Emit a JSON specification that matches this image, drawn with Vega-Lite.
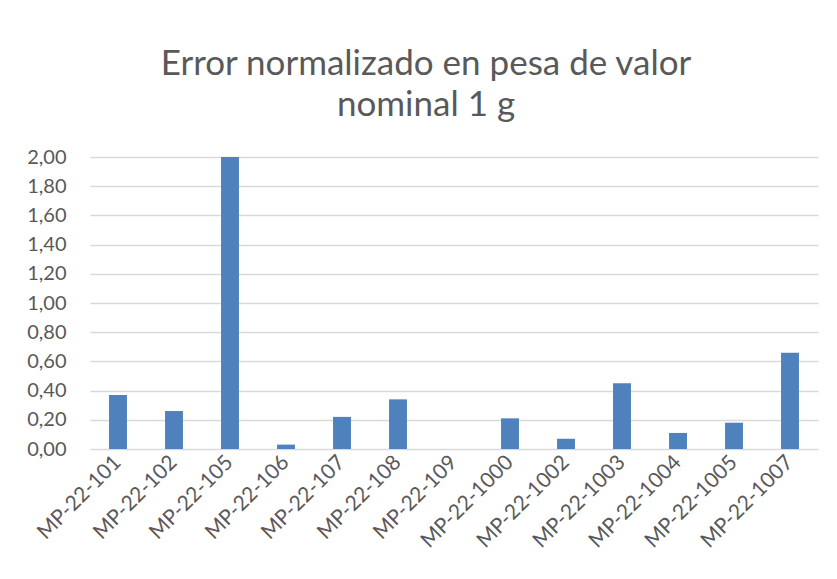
{
  "$schema": "https://vega.github.io/schema/vega-lite/v6.json",
  "width": 728,
  "height": 292,
  "autosize": {"type": "none"},
  "padding": {"left": 90, "top": 157, "right": 19, "bottom": 130},
  "background": "white",
  "title": {
    "text": ["Error normalizado en pesa de valor", "nominal 1 g"],
    "font": "Lato",
    "fontSize": 35,
    "fontWeight": "normal",
    "color": "#595959",
    "anchor": "middle",
    "frame": "group",
    "dx": -28,
    "offset": 24,
    "lineHeight": 41
  },
  "data": {
    "values": [
      {"pesa": "MP-22-101", "en": 0.37},
      {"pesa": "MP-22-102", "en": 0.26},
      {"pesa": "MP-22-105", "en": 2.0},
      {"pesa": "MP-22-106", "en": 0.03},
      {"pesa": "MP-22-107", "en": 0.22},
      {"pesa": "MP-22-108", "en": 0.34},
      {"pesa": "MP-22-109", "en": 0.0},
      {"pesa": "MP-22-1000", "en": 0.21},
      {"pesa": "MP-22-1002", "en": 0.07},
      {"pesa": "MP-22-1003", "en": 0.45},
      {"pesa": "MP-22-1004", "en": 0.11},
      {"pesa": "MP-22-1005", "en": 0.18},
      {"pesa": "MP-22-1007", "en": 0.66}
    ]
  },
  "mark": {"type": "bar", "color": "#4f81bd"},
  "encoding": {
    "x": {
      "field": "pesa",
      "type": "nominal",
      "sort": null,
      "scale": {"paddingInner": 0.68, "paddingOuter": 0.34},
      "axis": {
        "title": null,
        "labelAngle": -45,
        "labelAlign": "right",
        "labelBaseline": "middle",
        "labelFont": "Lato",
        "labelFontSize": 21,
        "labelColor": "#595959",
        "labelPadding": 10,
        "ticks": false,
        "domain": false
      }
    },
    "y": {
      "field": "en",
      "type": "quantitative",
      "scale": {"domain": [0, 2]},
      "axis": {
        "title": null,
        "values": [0, 0.2, 0.4, 0.6, 0.8, 1.0, 1.2, 1.4, 1.6, 1.8, 2.0],
        "format": ".2f",
        "labelFont": "Lato",
        "labelFontSize": 20,
        "labelColor": "#595959",
        "labelPadding": 24,
        "ticks": false,
        "domain": false,
        "grid": true,
        "gridColor": "#d9d9d9",
        "gridWidth": 1.3
      }
    }
  },
  "config": {
    "view": {"stroke": null},
    "locale": {
      "number": {"decimal": ",", "thousands": ".", "grouping": [3], "currency": ["", " €"]}
    }
  }
}
